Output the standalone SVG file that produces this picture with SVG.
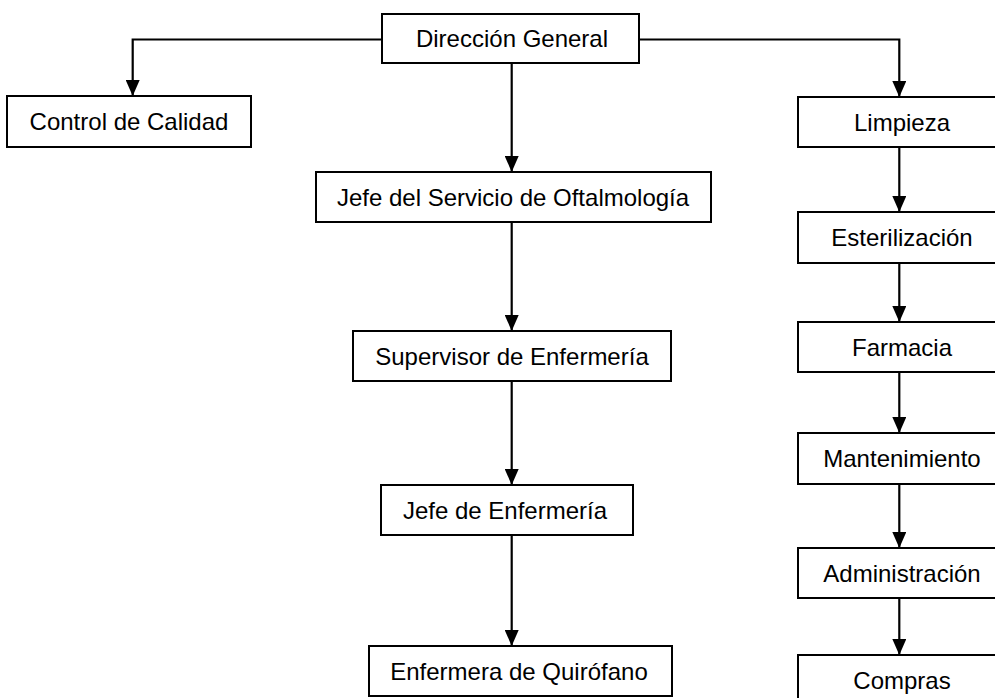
<svg xmlns="http://www.w3.org/2000/svg" width="995" height="698" viewBox="0 0 995 698">
<style>
.box{fill:#fff;stroke:#000;stroke-width:2}
.lbl{font-family:"Liberation Sans",Arial,sans-serif;font-size:24px;fill:#000;text-anchor:middle}
.con{fill:none;stroke:#000;stroke-width:2.2;marker-end:url(#ah)}
</style>
<defs>
<marker id="ah" viewBox="0 0 16 14" refX="16" refY="7" markerWidth="16" markerHeight="14" markerUnits="userSpaceOnUse" orient="auto">
<path d="M0,0 L16,7 L0,14 z" fill="#000"/>
</marker>
</defs>
<rect width="995" height="698" fill="#fff"/>
<g id="connectors">
<path class="con" d="M382,39.5 H132.7 V96"/>
<path class="con" d="M639,39.5 H899.3 V97"/>
<path class="con" d="M511.7,63 V172"/>
<path class="con" d="M511.7,222 V331"/>
<path class="con" d="M511.7,381 V485"/>
<path class="con" d="M511.7,535 V646"/>
<path class="con" d="M899.3,147 V212"/>
<path class="con" d="M899.3,263 V322"/>
<path class="con" d="M899.3,372 V433"/>
<path class="con" d="M899.3,484 V548"/>
<path class="con" d="M899.3,598 V655"/>
</g>
<g id="direccion"><rect class="box" x="382" y="14" width="257" height="49"/><text class="lbl" x="512" y="47">Dirección General</text></g>
<g id="control"><rect class="box" x="7" y="96" width="244" height="51"/><text class="lbl" x="129" y="130">Control de Calidad</text></g>
<g id="jefe-servicio"><rect class="box" x="316" y="172" width="395" height="50"/><text class="lbl" x="513" y="205.5">Jefe del Servicio de Oftalmología</text></g>
<g id="supervisor"><rect class="box" x="353" y="331" width="318" height="50"/><text class="lbl" x="512" y="364.5">Supervisor de Enfermería</text></g>
<g id="jefe-enfermeria"><rect class="box" x="381" y="485" width="252" height="50"/><text class="lbl" x="505" y="518.5">Jefe de Enfermería</text></g>
<g id="enfermera"><rect class="box" x="369" y="646" width="303" height="50"/><text class="lbl" x="519" y="679.5">Enfermera de Quirófano</text></g>
<g id="limpieza"><rect class="box" x="798" y="97" width="208" height="50"/><text class="lbl" x="902" y="130.5">Limpieza</text></g>
<g id="esterilizacion"><rect class="box" x="798" y="212" width="208" height="51"/><text class="lbl" x="902" y="246">Esterilización</text></g>
<g id="farmacia"><rect class="box" x="798" y="322" width="208" height="50"/><text class="lbl" x="902" y="355.5">Farmacia</text></g>
<g id="mantenimiento"><rect class="box" x="798" y="433" width="208" height="51"/><text class="lbl" x="902" y="467">Mantenimiento</text></g>
<g id="administracion"><rect class="box" x="798" y="548" width="208" height="50"/><text class="lbl" x="902" y="581.5">Administración</text></g>
<g id="compras"><rect class="box" x="798" y="655" width="208" height="50"/><text class="lbl" x="902" y="688.5">Compras</text></g>
</svg>
